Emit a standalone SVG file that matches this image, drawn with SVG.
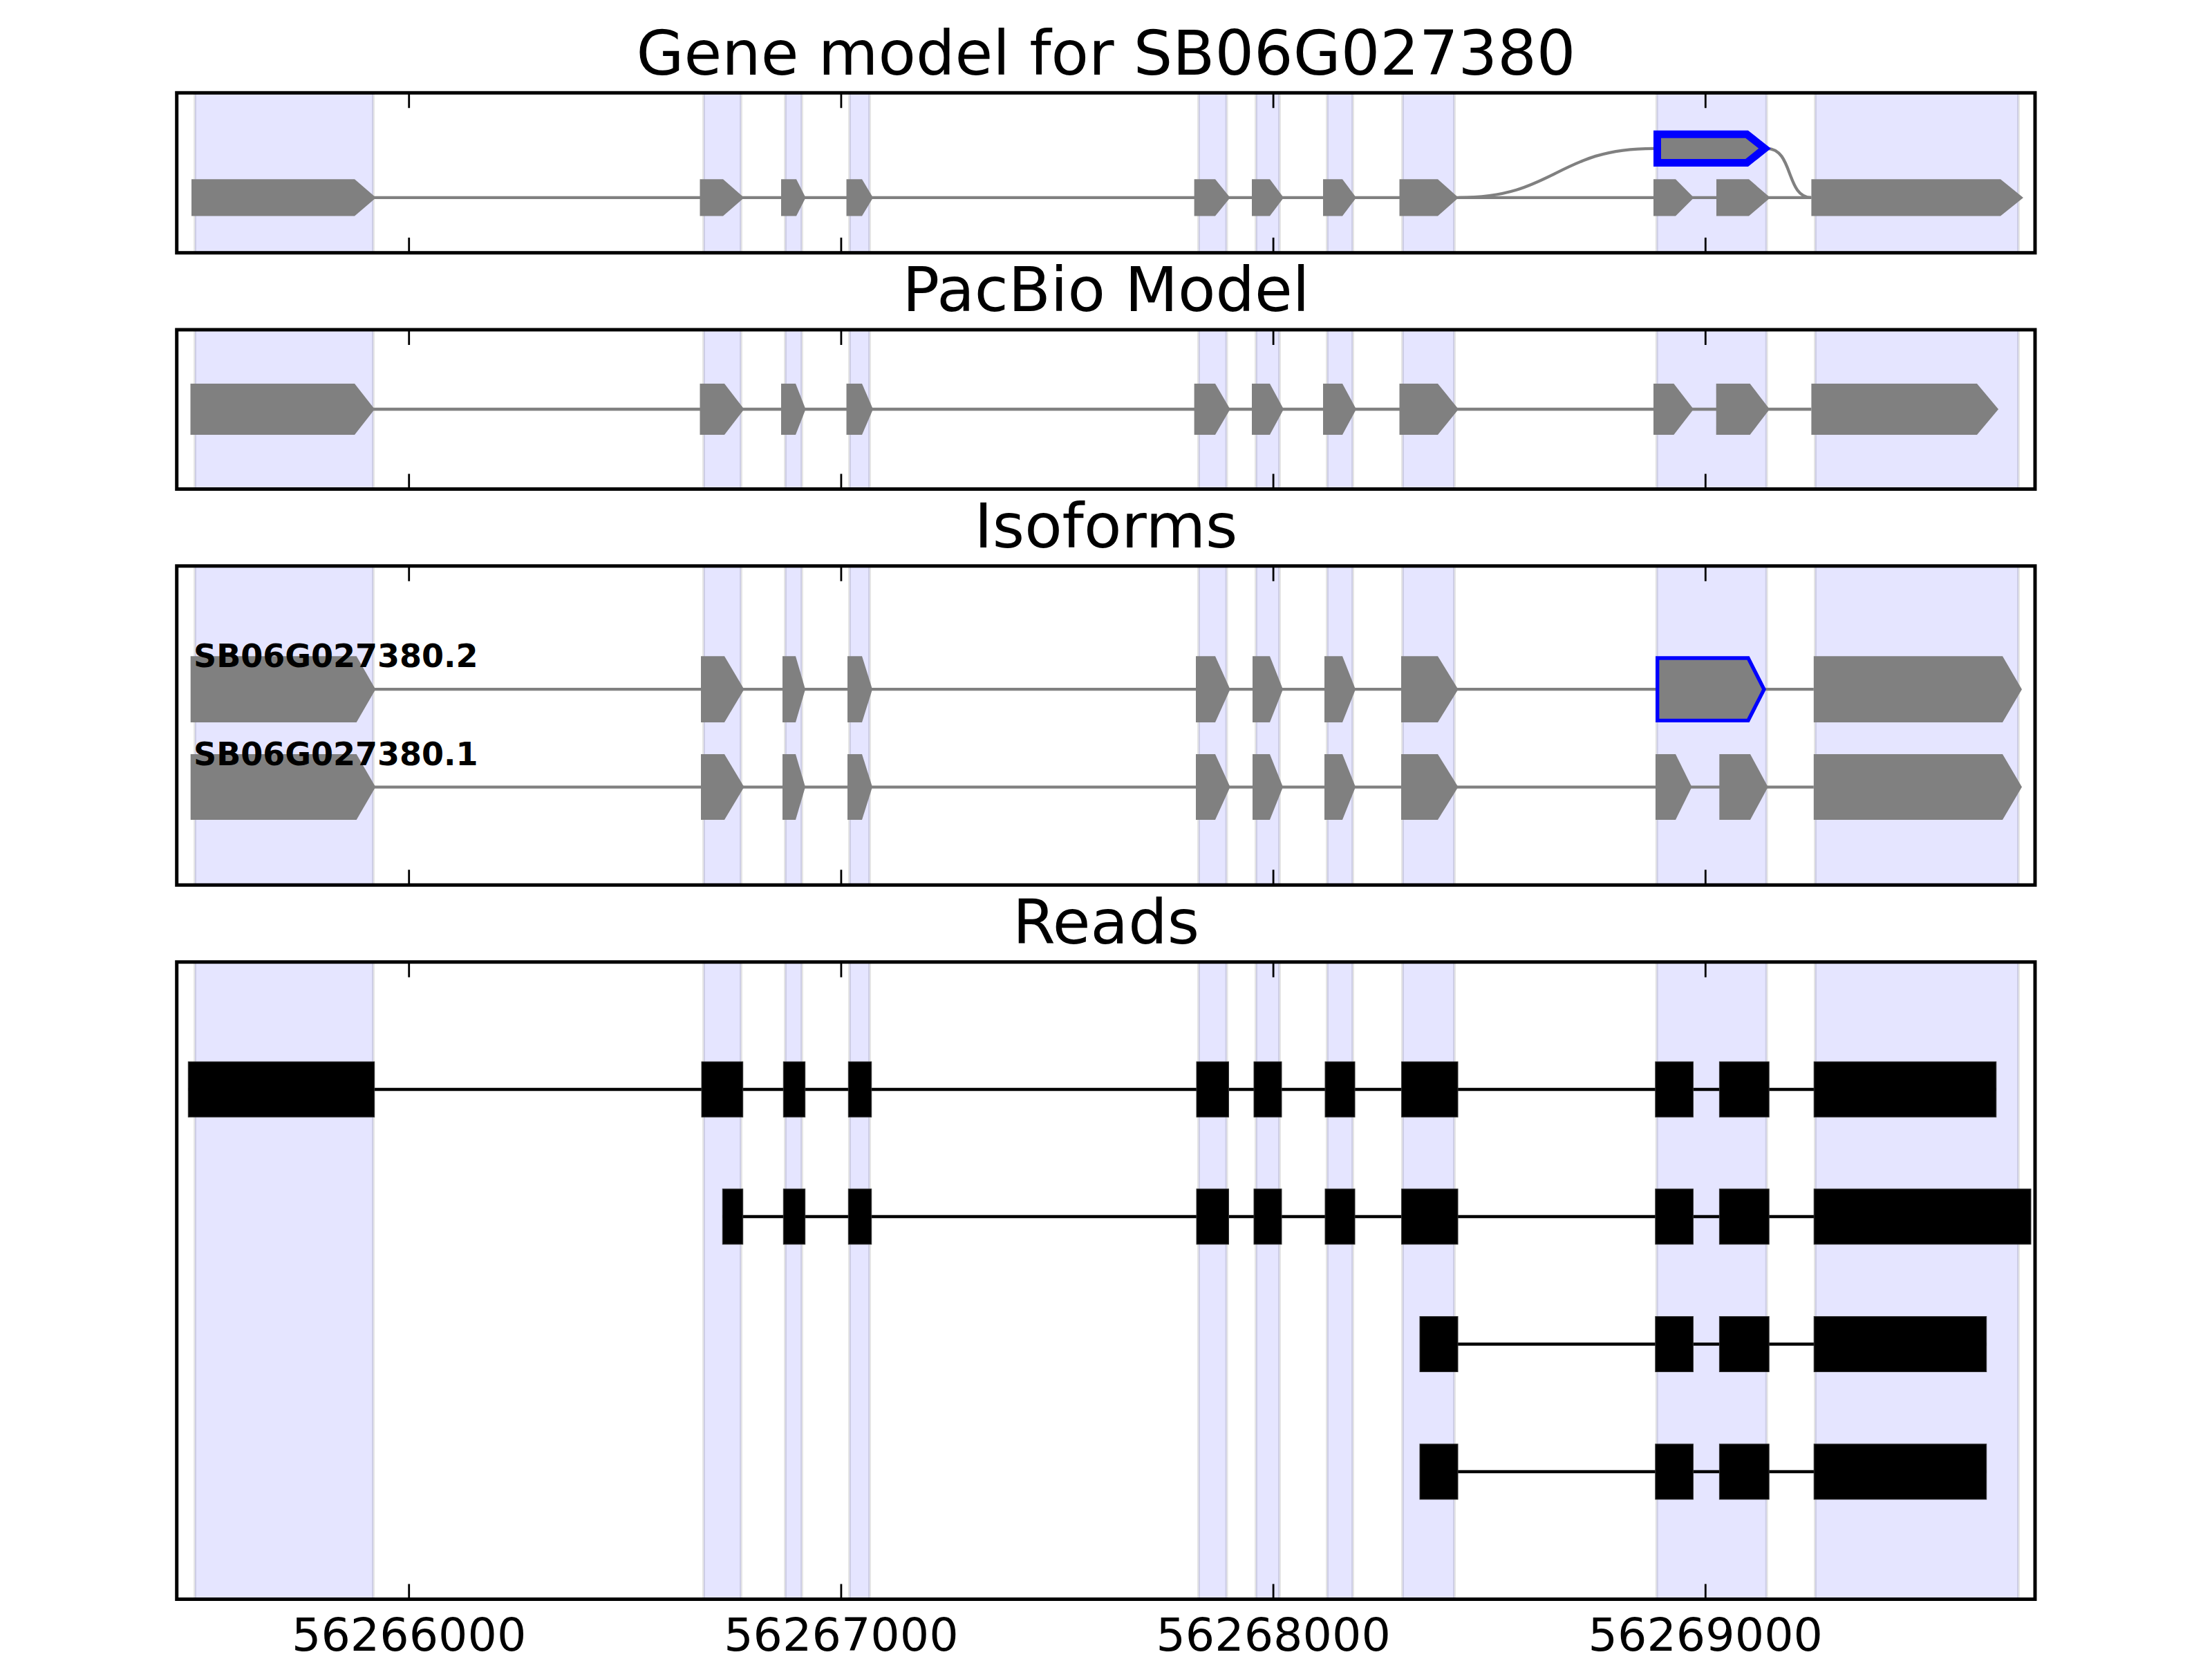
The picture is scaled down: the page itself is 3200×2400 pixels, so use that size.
<svg xmlns="http://www.w3.org/2000/svg" width="3200" height="2400" viewBox="0 0 3200 2400">
<defs>
<style>
.bg{fill:#fff}
.span{fill:#0000ff;fill-opacity:0.1;stroke:#000;stroke-opacity:0.1;stroke-width:4}
.exon{fill:#808080}
.sel1{fill:#808080;stroke:#0000ff;stroke-width:11;stroke-linejoin:miter;stroke-miterlimit:10}
.sel3{fill:#808080;stroke:#0000ff;stroke-width:5.3;stroke-linejoin:miter;stroke-miterlimit:10}
.intron{stroke:#808080;stroke-width:4.3;fill:none}
.read{fill:#000;stroke:#333;stroke-width:1}
.rline{stroke:#000;stroke-width:4.5}
.frame{fill:none;stroke:#000;stroke-width:5}
.tick{stroke:#000;stroke-width:2.8}
.title{font-family:"DejaVu Sans","Liberation Sans",sans-serif;font-size:89px;text-anchor:middle;fill:#000}
.tl{font-family:"DejaVu Sans","Liberation Sans",sans-serif;font-size:66.7px;text-anchor:middle;fill:#000}
.iso{font-family:"DejaVu Sans","Liberation Sans",sans-serif;font-size:46px;font-weight:bold;fill:#000}
</style>
</defs>
<rect class="bg" x="0" y="0" width="3200" height="2400"/>

<g id="titles">
<text class="title" x="1600" y="108">Gene model for SB06G027380</text>
<text class="title" x="1600" y="450">PacBio Model</text>
<text class="title" x="1600" y="792">Isoforms</text>
<text class="title" x="1600" y="1365">Reads</text>
</g>

<g id="panel1">
<g id="p1-spans">
<rect class="span" x="282" y="134.3" width="258" height="231.4"/>
<rect class="span" x="1018" y="134.3" width="54" height="231.4"/>
<rect class="span" x="1136" y="134.3" width="24" height="231.4"/>
<rect class="span" x="1229" y="134.3" width="29" height="231.4"/>
<rect class="span" x="1734" y="134.3" width="40.5" height="231.4"/>
<rect class="span" x="1817" y="134.3" width="34" height="231.4"/>
<rect class="span" x="1920" y="134.3" width="37" height="231.4"/>
<rect class="span" x="2029" y="134.3" width="75" height="231.4"/>
<rect class="span" x="2396.7" y="134.3" width="159" height="231.4"/>
<rect class="span" x="2626" y="134.3" width="294" height="231.4"/>
</g>
<g id="p1-connectors">
<line class="intron" x1="277" y1="285.9" x2="2620.4" y2="285.9"/>
<path class="intron" d="M2110,285.9 C2251,285.9 2251,214.8 2392,214.8"/>
<path class="intron" d="M2556,214.8 C2595,214.8 2583,285.9 2620.4,285.9"/>
</g>
<g id="p1-e1"><polygon class="exon" points="277,259.3 513,259.3 544,285.9 513,312.5 277,312.5"/></g>
<g id="p1-e2"><polygon class="exon" points="1012.5,259.3 1046,259.3 1076.5,285.9 1046,312.5 1012.5,312.5"/></g>
<g id="p1-e3"><polygon class="exon" points="1130,259.3 1152,259.3 1165.5,285.9 1152,312.5 1130,312.5"/></g>
<g id="p1-e4"><polygon class="exon" points="1224.5,259.3 1247,259.3 1263,285.9 1247,312.5 1224.5,312.5"/></g>
<g id="p1-e5"><polygon class="exon" points="1727.6,259.3 1758,259.3 1779.6,285.9 1758,312.5 1727.6,312.5"/></g>
<g id="p1-e6"><polygon class="exon" points="1811,259.3 1837,259.3 1857,285.9 1837,312.5 1811,312.5"/></g>
<g id="p1-e7"><polygon class="exon" points="1914,259.3 1942,259.3 1962,285.9 1942,312.5 1914,312.5"/></g>
<g id="p1-e8"><polygon class="exon" points="2024.5,259.3 2080,259.3 2110,285.9 2080,312.5 2024.5,312.5"/></g>
<g id="p1-e9"><polygon class="exon" points="2392,259.3 2424,259.3 2450.5,285.9 2424,312.5 2392,312.5"/></g>
<g id="p1-e10"><polygon class="exon" points="2483,259.3 2530,259.3 2561,285.9 2530,312.5 2483,312.5"/></g>
<g id="p1-e11"><polygon class="exon" points="2620.4,259.3 2894,259.3 2927,285.9 2894,312.5 2620.4,312.5"/></g>
<g id="p1-sel"><polygon class="sel1" points="2397.5,194.2 2527,194.2 2553,214.8 2527,235.5 2397.5,235.5"/></g>
<rect class="frame" x="255.7" y="134.3" width="2688.3" height="231.4"/>
</g>

<g id="panel2">
<g id="p2-spans">
<rect class="span" x="282" y="477" width="258" height="230.5"/>
<rect class="span" x="1018" y="477" width="54" height="230.5"/>
<rect class="span" x="1136" y="477" width="24" height="230.5"/>
<rect class="span" x="1229" y="477" width="29" height="230.5"/>
<rect class="span" x="1734" y="477" width="40.5" height="230.5"/>
<rect class="span" x="1817" y="477" width="34" height="230.5"/>
<rect class="span" x="1920" y="477" width="37" height="230.5"/>
<rect class="span" x="2029" y="477" width="75" height="230.5"/>
<rect class="span" x="2396.7" y="477" width="159" height="230.5"/>
<rect class="span" x="2626" y="477" width="294" height="230.5"/>
</g>
<g id="p2-connectors">
<line class="intron" x1="276" y1="592" x2="2620.4" y2="592"/>
</g>
<g id="p2-e1"><polygon class="exon" points="275.5,555 513,555 542,592 513,629 275.5,629"/></g>
<g id="p2-e2"><polygon class="exon" points="1012.5,555 1048,555 1076.5,592 1048,629 1012.5,629"/></g>
<g id="p2-e3"><polygon class="exon" points="1130,555 1151,555 1165.5,592 1151,629 1130,629"/></g>
<g id="p2-e4"><polygon class="exon" points="1224.5,555 1247,555 1263,592 1247,629 1224.5,629"/></g>
<g id="p2-e5"><polygon class="exon" points="1727.6,555 1758,555 1779.6,592 1758,629 1727.6,629"/></g>
<g id="p2-e6"><polygon class="exon" points="1811,555 1837,555 1857,592 1837,629 1811,629"/></g>
<g id="p2-e7"><polygon class="exon" points="1914,555 1942,555 1962,592 1942,629 1914,629"/></g>
<g id="p2-e8"><polygon class="exon" points="2024.5,555 2080,555 2110,592 2080,629 2024.5,629"/></g>
<g id="p2-e9"><polygon class="exon" points="2392,555 2421.4,555 2450,592 2421.4,629 2392,629"/></g>
<g id="p2-e10"><polygon class="exon" points="2482.7,555 2531.6,555 2560,592 2531.6,629 2482.7,629"/></g>
<g id="p2-e11"><polygon class="exon" points="2620.4,555 2860,555 2891,592 2860,629 2620.4,629"/></g>
<rect class="frame" x="255.7" y="477" width="2688.3" height="230.5"/>
</g>

<g id="panel3">
<g id="p3-spans">
<rect class="span" x="282" y="818.8" width="258" height="461.5"/>
<rect class="span" x="1018" y="818.8" width="54" height="461.5"/>
<rect class="span" x="1136" y="818.8" width="24" height="461.5"/>
<rect class="span" x="1229" y="818.8" width="29" height="461.5"/>
<rect class="span" x="1734" y="818.8" width="40.5" height="461.5"/>
<rect class="span" x="1817" y="818.8" width="34" height="461.5"/>
<rect class="span" x="1920" y="818.8" width="37" height="461.5"/>
<rect class="span" x="2029" y="818.8" width="75" height="461.5"/>
<rect class="span" x="2396.7" y="818.8" width="159" height="461.5"/>
<rect class="span" x="2626" y="818.8" width="294" height="461.5"/>
</g>
<g id="p3-connectors">
<line class="intron" x1="276" y1="997.2" x2="2623.8" y2="997.2"/>
<line class="intron" x1="276" y1="1138.6" x2="2623.8" y2="1138.6"/>
</g>
<g id="iso2">
<polygon class="exon" points="275.7,949.3 515.7,949.3 543.3,997.2 515.7,1045 275.7,1045"/>
<polygon class="exon" points="1014,949.3 1048,949.3 1076.5,997.2 1048,1045 1014,1045"/>
<polygon class="exon" points="1132,949.3 1151,949.3 1165,997.2 1151,1045 1132,1045"/>
<polygon class="exon" points="1226,949.3 1247,949.3 1262,997.2 1247,1045 1226,1045"/>
<polygon class="exon" points="1730,949.3 1758,949.3 1779.6,997.2 1758,1045 1730,1045"/>
<polygon class="exon" points="1812,949.3 1837,949.3 1856,997.2 1837,1045 1812,1045"/>
<polygon class="exon" points="1916,949.3 1942,949.3 1961,997.2 1942,1045 1916,1045"/>
<polygon class="exon" points="2027,949.3 2080,949.3 2109.5,997.2 2080,1045 2027,1045"/>
<polygon class="sel3" points="2397.7,952 2529,952 2552,997.2 2529,1042.3 2397.7,1042.3"/>
<polygon class="exon" points="2623.8,949.3 2897,949.3 2925,997.2 2897,1045 2623.8,1045"/>
<text class="iso" x="280" y="965">SB06G027380.2</text>
</g>
<g id="iso1">
<polygon class="exon" points="275.7,1091 515.7,1091 543.3,1138.6 515.7,1186 275.7,1186"/>
<polygon class="exon" points="1014,1091 1048,1091 1076.5,1138.6 1048,1186 1014,1186"/>
<polygon class="exon" points="1132,1091 1151,1091 1165,1138.6 1151,1186 1132,1186"/>
<polygon class="exon" points="1226,1091 1247,1091 1262,1138.6 1247,1186 1226,1186"/>
<polygon class="exon" points="1730,1091 1758,1091 1779.6,1138.6 1758,1186 1730,1186"/>
<polygon class="exon" points="1812,1091 1837,1091 1856,1138.6 1837,1186 1812,1186"/>
<polygon class="exon" points="1916,1091 1942,1091 1961,1138.6 1942,1186 1916,1186"/>
<polygon class="exon" points="2027,1091 2080,1091 2109.5,1138.6 2080,1186 2027,1186"/>
<polygon class="exon" points="2395,1091 2424,1091 2447.5,1138.6 2424,1186 2395,1186"/>
<polygon class="exon" points="2487.3,1091 2532,1091 2557.7,1138.6 2532,1186 2487.3,1186"/>
<polygon class="exon" points="2623.8,1091 2897,1091 2925,1138.6 2897,1186 2623.8,1186"/>
<text class="iso" x="280" y="1107">SB06G027380.1</text>
</g>
<rect class="frame" x="255.7" y="818.8" width="2688.3" height="461.5"/>
</g>

<g id="panel4">
<g id="p4-spans">
<rect class="span" x="282" y="1391.7" width="258" height="921.8"/>
<rect class="span" x="1018" y="1391.7" width="54" height="921.8"/>
<rect class="span" x="1136" y="1391.7" width="24" height="921.8"/>
<rect class="span" x="1229" y="1391.7" width="29" height="921.8"/>
<rect class="span" x="1734" y="1391.7" width="40.5" height="921.8"/>
<rect class="span" x="1817" y="1391.7" width="34" height="921.8"/>
<rect class="span" x="1920" y="1391.7" width="37" height="921.8"/>
<rect class="span" x="2029" y="1391.7" width="75" height="921.8"/>
<rect class="span" x="2396.7" y="1391.7" width="159" height="921.8"/>
<rect class="span" x="2626" y="1391.7" width="294" height="921.8"/>
</g>
<g id="p4-connectors">
<line class="rline" x1="272.3" y1="1576" x2="2887.8" y2="1576"/>
<line class="rline" x1="1045.3" y1="1760" x2="2938" y2="1760"/>
<line class="rline" x1="2054" y1="1944.5" x2="2873.7" y2="1944.5"/>
<line class="rline" x1="2054" y1="2129" x2="2873.7" y2="2129"/>
</g>
<g id="read1">
<rect class="read" x="272.3" y="1536" width="269.4" height="80"/>
<rect class="read" x="1015" y="1536" width="59.7" height="80"/>
<rect class="read" x="1133.3" y="1536" width="31.4" height="80"/>
<rect class="read" x="1227.3" y="1536" width="33.4" height="80"/>
<rect class="read" x="1731" y="1536" width="46.5" height="80"/>
<rect class="read" x="1814" y="1536" width="40" height="80"/>
<rect class="read" x="1917" y="1536" width="43" height="80"/>
<rect class="read" x="2027.6" y="1536" width="81.4" height="80"/>
<rect class="read" x="2394.8" y="1536" width="54.6" height="80"/>
<rect class="read" x="2487.4" y="1536" width="71.8" height="80"/>
<rect class="read" x="2624.2" y="1536" width="263.6" height="80"/>
</g>
<g id="read2">
<rect class="read" x="1045.3" y="1720" width="29.4" height="80"/>
<rect class="read" x="1133.3" y="1720" width="31.4" height="80"/>
<rect class="read" x="1227.3" y="1720" width="33.4" height="80"/>
<rect class="read" x="1731" y="1720" width="46.5" height="80"/>
<rect class="read" x="1814" y="1720" width="40" height="80"/>
<rect class="read" x="1917" y="1720" width="43" height="80"/>
<rect class="read" x="2027.6" y="1720" width="81.4" height="80"/>
<rect class="read" x="2394.8" y="1720" width="54.6" height="80"/>
<rect class="read" x="2487.4" y="1720" width="71.8" height="80"/>
<rect class="read" x="2624.2" y="1720" width="313.8" height="80"/>
</g>
<g id="read3">
<rect class="read" x="2054" y="1904.5" width="55" height="80"/>
<rect class="read" x="2394.8" y="1904.5" width="54.6" height="80"/>
<rect class="read" x="2487.4" y="1904.5" width="71.8" height="80"/>
<rect class="read" x="2624.2" y="1904.5" width="249.5" height="80"/>
</g>
<g id="read4">
<rect class="read" x="2054" y="2089" width="55" height="80"/>
<rect class="read" x="2394.8" y="2089" width="54.6" height="80"/>
<rect class="read" x="2487.4" y="2089" width="71.8" height="80"/>
<rect class="read" x="2624.2" y="2089" width="249.5" height="80"/>
</g>
<rect class="frame" x="255.7" y="1391.7" width="2688.3" height="921.8"/>
</g>

<g id="ticks">
<path class="tick" d="M591.7,134.3v22M1216.9,134.3v22M1842.1,134.3v22M2467.3,134.3v22M591.7,365.7v-22M1216.9,365.7v-22M1842.1,365.7v-22M2467.3,365.7v-22"/>
<path class="tick" d="M591.7,477v22M1216.9,477v22M1842.1,477v22M2467.3,477v22M591.7,707.5v-22M1216.9,707.5v-22M1842.1,707.5v-22M2467.3,707.5v-22"/>
<path class="tick" d="M591.7,818.8v22M1216.9,818.8v22M1842.1,818.8v22M2467.3,818.8v22M591.7,1280.3v-22M1216.9,1280.3v-22M1842.1,1280.3v-22M2467.3,1280.3v-22"/>
<path class="tick" d="M591.7,1391.7v22M1216.9,1391.7v22M1842.1,1391.7v22M2467.3,1391.7v22M591.7,2313.5v-22M1216.9,2313.5v-22M1842.1,2313.5v-22M2467.3,2313.5v-22"/>
</g>
<g id="ticklabels">
<text class="tl" x="591.7" y="2388">56266000</text>
<text class="tl" x="1216.9" y="2388">56267000</text>
<text class="tl" x="1842.1" y="2388">56268000</text>
<text class="tl" x="2467.3" y="2388">56269000</text>
</g>
</svg>
